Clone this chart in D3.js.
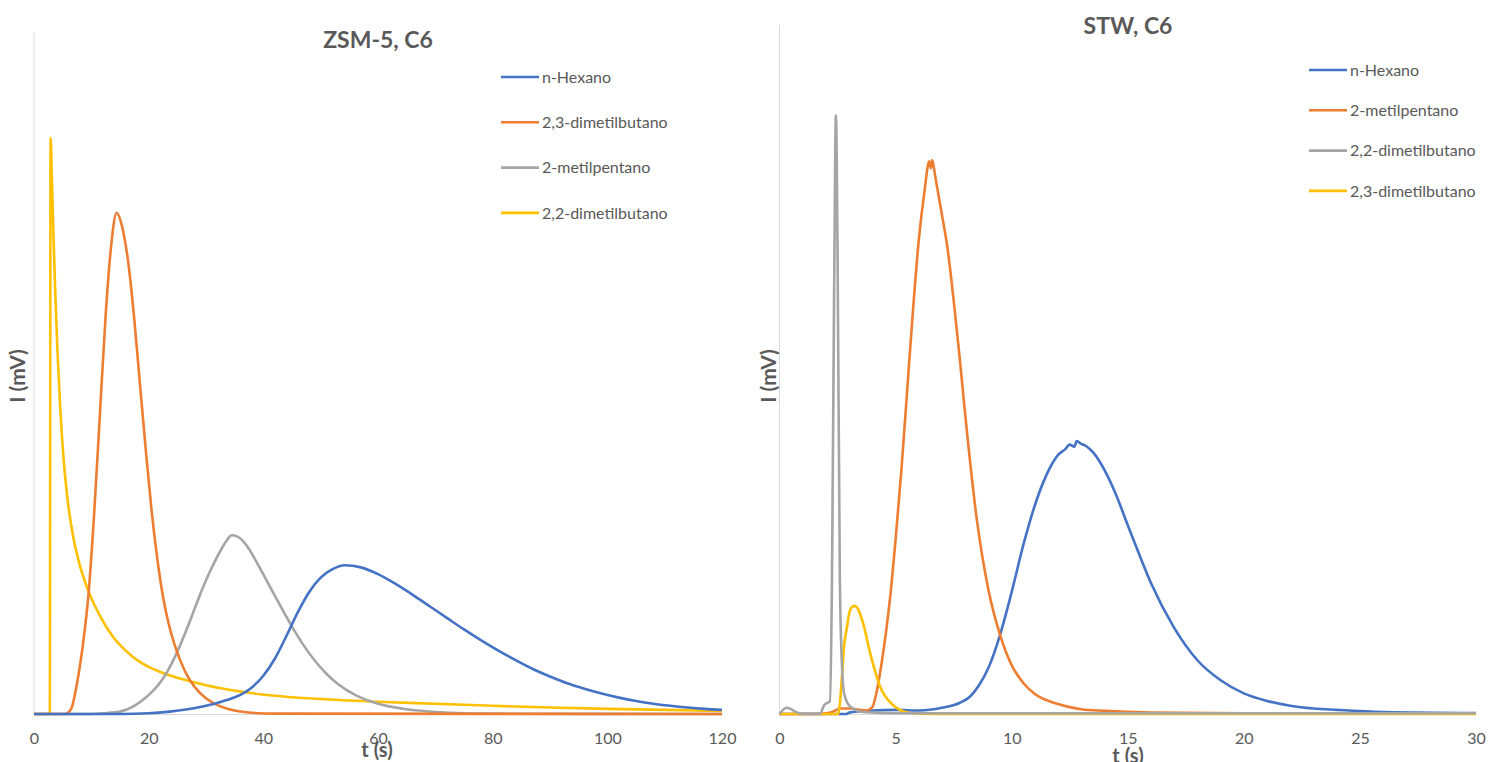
<!DOCTYPE html>
<html>
<head>
<meta charset="utf-8">
<script src="https://cdn.jsdelivr.net/npm/d3@7"></script>
<style>
  body { margin: 0; background: #fff; }
  svg { display: block; }
  text { font-family: Lato, "Open Sans", sans-serif; fill: #595959; }
</style>
</head>
<body>
<svg id="chart" width="1489" height="762"></svg>
<script>
// ---- ZSM-5, C6 chromatogram (time in s, signal in relative mV units) ----
const zsmNames = ["n-Hexano", "2,3-dimetilbutano", "2-metilpentano", "2,2-dimetilbutano"];
const zsmTicks = [0, 20, 40, 60, 80, 100, 120];

const zsmHexanoT = [0, 15, 20, 23.7, 26.5, 29.4, 31.5, 33.6, 36, 38, 40, 42, 44, 46, 48, 50, 52, 54.2, 57, 60, 63, 66, 69, 72, 75, 78, 81, 84, 87, 90, 93, 96, 99, 102, 105, 108, 111, 114, 117, 120];
const zsmHexanoI = [0, 0, 0.1, 0.35, 0.65, 1.1, 1.5, 2.05, 2.8, 3.9, 5.6, 8.1, 11.4, 14.9, 17.9, 20.0, 21.2, 21.8, 21.5, 20.5, 19.1, 17.5, 15.8, 14.1, 12.4, 10.8, 9.3, 7.9, 6.6, 5.5, 4.5, 3.7, 3.0, 2.4, 1.9, 1.5, 1.2, 0.95, 0.75, 0.6];

const zsm23dmbT = [0, 5.4, 6.5, 7.5, 8.5, 9.5, 10.5, 11.5, 12.5, 13.5, 14.4, 15.3, 16.5, 17.5, 18.5, 19.5, 20.5, 21.5, 22.5, 23.5, 24.5, 25.5, 26.5, 28, 30, 32, 34, 37, 42, 120];
const zsm23dmbI = [0, 0, 0.8, 4.5, 10.0, 17.5, 29.5, 44, 58.5, 69, 73.5, 71.7, 65.8, 57.8, 48.2, 38.7, 29.9, 22.8, 17.2, 13.2, 10.2, 7.9, 6.0, 4.0, 2.3, 1.3, 0.7, 0.25, 0.05, 0];

const zsm2mpT = [0, 10, 12, 15, 17.5, 19.6, 21, 22.5, 24, 25.5, 27, 28.5, 30, 31.5, 32.5, 33.5, 34.5, 35.5, 36.5, 37.5, 39, 41, 43, 45, 47, 49, 51, 53, 56, 60, 65, 70, 75, 80, 120];
const zsm2mpI = [0, 0, 0.1, 0.35, 1.2, 2.5, 3.6, 5.2, 7.4, 10.1, 13.2, 16.5, 19.6, 22.3, 23.9, 25.3, 26.2, 26.0, 25.3, 24.2, 22.0, 18.9, 15.8, 12.8, 10.1, 7.8, 5.9, 4.4, 2.8, 1.5, 0.7, 0.3, 0.1, 0.05, 0];

const zsm22dmbT = [0, 2.75, 2.9, 3.1, 3.4, 3.7, 4.1, 4.6, 5.2, 6.0, 7.0, 8, 9.5, 11.5, 13.8, 16, 18, 20, 22.5, 25, 27.7, 32.4, 39.4, 50, 60, 70, 80, 90, 100, 110, 120];
const zsm22dmbI = [0, 0, 84.5, 79, 70, 62, 53, 44.5, 37, 30.5, 25.3, 21.8, 18.0, 14.4, 11.3, 9.3, 7.9, 6.9, 6.0, 5.3, 4.7, 3.8, 2.9, 2.2, 1.8, 1.5, 1.2, 0.95, 0.75, 0.6, 0.45];

// ---- STW, C6 chromatogram ----
const stwNames = ["n-Hexano", "2-metilpentano", "2,2-dimetilbutano", "2,3-dimetilbutano"];
const stwTicks = [0, 5, 10, 15, 20, 25, 30];

const stwHexanoT = [0, 2.9, 3.0, 4.0, 5.0, 6.0, 7.0, 7.75, 8.2, 8.6, 9.0, 9.5, 10, 10.5, 11, 11.5, 12, 12.3, 12.5, 12.7, 12.8, 13.0, 13.2, 13.5, 14, 14.5, 15, 15.5, 16, 17, 18, 19, 20, 21, 22, 23, 24, 26, 30];
const stwHexanoI = [0, 0, 0.2, 0.5, 0.6, 0.5, 0.9, 1.6, 2.5, 4.2, 6.7, 11.5, 17.7, 24.5, 30.3, 34.7, 37.6, 38.4, 39.1, 38.8, 39.6, 39.2, 38.9, 38.0, 35.4, 31.8, 27.4, 23.1, 19.0, 12.5, 7.8, 4.9, 3.0, 1.9, 1.2, 0.8, 0.6, 0.3, 0.15];

const stw2mpT = [0, 1.74, 2.2, 2.65, 3.0, 3.3, 3.7, 4.0, 4.2, 4.4, 4.6, 4.8, 5.0, 5.25, 5.5, 5.75, 6.0, 6.25, 6.45, 6.52, 6.58, 6.7, 7.0, 7.25, 7.5, 7.75, 8.0, 8.5, 9.0, 9.5, 10, 10.5, 11, 12, 13, 14, 16, 20, 30];
const stw2mpI = [0, 0, 0.2, 0.8, 0.8, 0.7, 0.5, 1.0, 3.5, 7.4, 12.2, 18, 25.3, 35.4, 47, 58.6, 68.8, 76, 80.2, 79.2, 80.4, 78.2, 72.4, 67.3, 60.1, 52.1, 43.4, 28.2, 18, 11.5, 7.1, 4.5, 2.9, 1.45, 0.7, 0.45, 0.2, 0.1, 0.05];

const stw22dmbT = [0, 0.15, 0.3, 0.5, 0.7, 1.0, 1.74, 1.93, 2.1, 2.17, 2.26, 2.35, 2.43, 2.5, 2.6, 2.7, 2.78, 3.04, 3.6, 5, 30];
const stw22dmbI = [0, 0.6, 0.9, 0.7, 0.3, 0.05, 0.05, 1.3, 1.7, 1.8, 19.4, 60.1, 86.9, 67.3, 19.4, 6.4, 3.0, 1.1, 0.3, 0.1, 0.1];

const stw23dmbT = [0, 2.53, 2.6, 2.7, 2.78, 2.9, 3.04, 3.15, 3.25, 3.6, 3.9, 4.33, 4.89, 5.62, 6.5, 30];
const stw23dmbI = [0, 0, 1.5, 6, 9.8, 12.5, 15.1, 15.6, 15.7, 13.2, 8.9, 4.0, 1.3, 0.15, 0, 0];

const palette = ["#4472C4", "#ED7D31", "#A5A5A5", "#FFC000"];

const panels = [
  {
    title: "ZSM-5, C6", titleX: 378, titleY: 48,
    left: 34, right: 722, top: 32, base: 714, xMax: 120, ticks: zsmTicks,
    xTitleX: 377, xTitleY: 757, yTitleX: 25,
    legendX: 501, legendY: 77, legendStep: 45.3,
    series: [
      { name: zsmNames[0], t: zsmHexanoT, v: zsmHexanoI, color: palette[0] },
      { name: zsmNames[1], t: zsm23dmbT, v: zsm23dmbI, color: palette[1] },
      { name: zsmNames[2], t: zsm2mpT, v: zsm2mpI, color: palette[2] },
      { name: zsmNames[3], t: zsm22dmbT, v: zsm22dmbI, color: palette[3] }
    ],
    drawOrder: [3, 2, 1, 0]
  },
  {
    title: "STW, C6", titleX: 1128, titleY: 34,
    left: 779.5, right: 1476, top: 25, base: 714, xMax: 30, ticks: stwTicks,
    xTitleX: 1128, xTitleY: 763, yTitleX: 776,
    legendX: 1309, legendY: 70, legendStep: 40.3,
    series: [
      { name: stwNames[0], t: stwHexanoT, v: stwHexanoI, color: palette[0] },
      { name: stwNames[1], t: stw2mpT, v: stw2mpI, color: palette[1] },
      { name: stwNames[2], t: stw22dmbT, v: stw22dmbI, color: palette[2] },
      { name: stwNames[3], t: stw23dmbT, v: stw23dmbI, color: palette[3] }
    ],
    drawOrder: [0, 1, 3, 2]
  }
];

const svg = d3.select("#chart");

panels.forEach(p => {
  const g = svg.append("g");
  const x = d3.scaleLinear().domain([0, p.xMax]).range([p.left, p.right]);
  const y = d3.scaleLinear().domain([0, 100]).range([p.base, p.top]);

  // value axis: plain light rule, no ticks
  g.append("line")
    .attr("x1", p.left).attr("x2", p.left)
    .attr("y1", p.top).attr("y2", p.base)
    .attr("stroke", "#D9D9D9").attr("stroke-width", 1);

  // time axis
  const xAxis = g.append("g")
    .attr("transform", `translate(0,${p.base})`)
    .call(d3.axisBottom(x).tickValues(p.ticks).tickSize(0).tickPadding(19).tickFormat(d3.format("d")));
  xAxis.select(".domain").attr("stroke", "#D9D9D9");
  xAxis.selectAll("text")
    .style("font-family", "Lato, 'Open Sans', sans-serif")
    .style("font-size", "16px")
    .attr("fill", "#595959");

  const line = d3.line()
    .x(d => x(d[0]))
    .y(d => y(d[1]))
    .curve(d3.curveMonotoneX);

  p.drawOrder.forEach(i => {
    const s = p.series[i];
    g.append("path")
      .datum(s.t.map((t, k) => [t, s.v[k]]))
      .attr("fill", "none")
      .attr("stroke", s.color)
      .attr("stroke-width", 2.6)
      .attr("stroke-linejoin", "round")
      .attr("d", line);
  });

  // chart title
  g.append("text")
    .attr("x", p.titleX).attr("y", p.titleY)
    .attr("text-anchor", "middle")
    .style("font-size", "23px").style("font-weight", "700")
    .text(p.title);

  // axis titles
  g.append("text")
    .attr("x", p.xTitleX).attr("y", p.xTitleY)
    .attr("text-anchor", "middle")
    .style("font-size", "20px").style("font-weight", "700")
    .text("t (s)");
  g.append("text")
    .attr("transform", `translate(${p.yTitleX},376) rotate(-90)`)
    .attr("text-anchor", "middle")
    .style("font-size", "21px").style("font-weight", "700")
    .text("I (mV)");

  // legend
  const lg = g.append("g");
  p.series.forEach((s, i) => {
    const yy = p.legendY + i * p.legendStep;
    lg.append("line")
      .attr("x1", p.legendX).attr("x2", p.legendX + 38)
      .attr("y1", yy).attr("y2", yy)
      .attr("stroke", s.color).attr("stroke-width", 2.6);
    lg.append("text")
      .attr("x", p.legendX + 41).attr("y", yy)
      .attr("dy", "0.35em")
      .style("font-size", "16px")
      .text(s.name);
  });
});
</script>
</body>
</html>
